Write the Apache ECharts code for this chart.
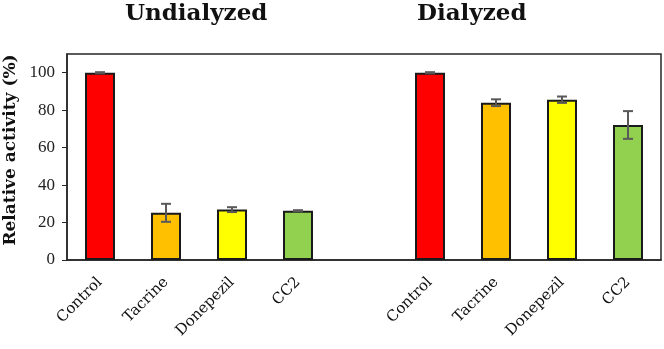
<!DOCTYPE html>
<html>
<head>
<meta charset="utf-8">
<script src="https://cdn.jsdelivr.net/npm/echarts@6/dist/echarts.min.js"></script>
<style>
  html, body { margin: 0; padding: 0; background: #fff; }
  #chart { width: 664px; height: 349px; }
</style>
</head>
<body>
<div id="chart"></div>
<script>
// groups of drugs, one empty slot between the two groups
const drugs = ['Control', 'Tacrine', 'Donepezil', 'CC2'];
const undialyzed = [100, 25.2, 26.9, 26.3];
const undialyzedErr = [0.3, 4.8, 1.3, 0.3];
const dialyzed = [100, 84.0, 85.6, 72.1];
const dialyzedErr = [0.3, 1.8, 1.7, 7.4];
const barColors = ['#FF0000', '#FFC000', '#FFFF00', '#92D050'];
const yTicks = [0, 20, 40, 60, 80, 100];

const SERIF = '"Liberation Serif", serif';
const WIDE = '"DejaVu Serif", serif';

// x categories: 4 + gap + 4
const categories = drugs.concat(['']).concat(drugs);
const values = undialyzed.concat([null]).concat(dialyzed);
const errors = undialyzedErr.concat([null]).concat(dialyzedErr);
const colors = barColors.concat(['#fff']).concat(barColors);

const barData = values.map((v, i) => ({
  value: v,
  itemStyle: { color: colors[i] }
}));
const errData = values.map((v, i) => v == null ? [i, null, null] : [i, v - errors[i], v + errors[i]]);

const chart = echarts.init(document.getElementById('chart'), null, { renderer: 'canvas' });

chart.setOption({
  animation: false,
  grid: {
    left: 67, right: 3, top: 54, bottom: 89,
    outerBoundsMode: 'none',
    containLabel: false,
    show: true, borderColor: '#262626', borderWidth: 1.5, backgroundColor: 'transparent'
  },
  graphic: [
    { type: 'text', left: 125, top: 3, style: { text: 'Undialyzed', font: 'bold 23px ' + WIDE, fill: '#111' } },
    { type: 'text', left: 417, top: 3, style: { text: 'Dialyzed', font: 'bold 23px ' + WIDE, fill: '#111' } }
  ],
  xAxis: {
    type: 'category',
    data: categories,
    axisLine: { lineStyle: { color: '#262626', width: 1.5 } },
    axisTick: { show: false },
    axisLabel: {
      interval: 0, rotate: 45, fontFamily: WIDE, fontSize: 15, color: '#111', margin: 20
    }
  },
  yAxis: {
    type: 'value',
    min: 0, max: 110,
    name: 'Relative activity (%)',
    nameLocation: 'middle',
    nameGap: 34,
    nameTextStyle: { fontFamily: WIDE, fontSize: 17, fontWeight: 'bold', color: '#111', padding: [0, 0, 0, 14] },
    axisLine: { show: true, lineStyle: { color: '#262626', width: 1.5 } },
    axisTick: { show: true, inside: false, length: 5, customValues: yTicks, lineStyle: { color: '#262626' } },
    axisLabel: { fontFamily: SERIF, fontSize: 17, color: '#222', margin: 12, customValues: yTicks },
    splitLine: { show: false }
  },
  series: [
    {
      type: 'bar',
      data: barData,
      barWidth: 30,
      itemStyle: { borderColor: '#1a1a1a', borderWidth: 2 }
    },
    {
      type: 'custom',
      data: errData,
      z: 10,
      renderItem: function (params, api) {
        if (api.value(1) == null || isNaN(api.value(1))) return;
        const lo = api.coord([api.value(0), api.value(1)]);
        const hi = api.coord([api.value(0), api.value(2)]);
        const hw = 5;
        const style = { stroke: '#595959', lineWidth: 2 };
        return {
          type: 'group',
          children: [
            { type: 'line', shape: { x1: lo[0], y1: lo[1], x2: hi[0], y2: hi[1] }, style: style },
            { type: 'line', shape: { x1: lo[0] - hw, y1: lo[1], x2: lo[0] + hw, y2: lo[1] }, style: style },
            { type: 'line', shape: { x1: hi[0] - hw, y1: hi[1], x2: hi[0] + hw, y2: hi[1] }, style: style }
          ]
        };
      }
    }
  ]
});
</script>
</body>
</html>
